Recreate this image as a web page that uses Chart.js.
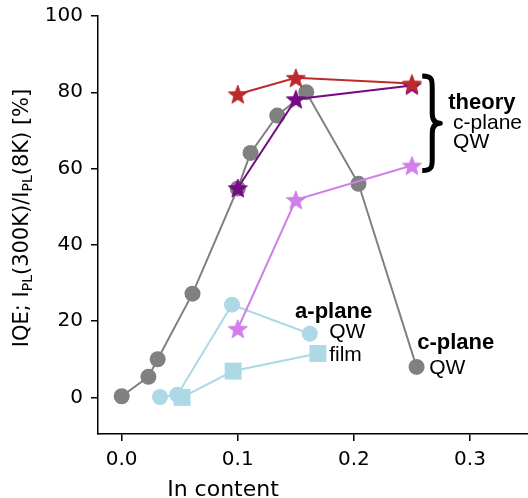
<!DOCTYPE html>
<html>
<head>
<meta charset="utf-8">
<script src="https://cdn.jsdelivr.net/npm/chart.js@4.4.0/dist/chart.umd.min.js"></script>
<style>
  body { margin: 0; background: #fff; }
  #wrap { width: 528px; height: 498px; }
</style>
</head>
<body>
<div id="wrap"><canvas id="iqeChart" width="528" height="498"></canvas></div>
<script>
// c-plane QW, experiment (grey circles)
var cQwX = [0.0, 0.023, 0.031, 0.061, 0.1, 0.111, 0.134, 0.159, 0.204, 0.254];
var cQwY = [0.3, 5.4, 10.0, 27.2, 54.8, 64.1, 73.9, 80.0, 56.0, 8.0];
// a-plane QW (light blue circles) and film (light blue squares)
var aQwX = [0.033, 0.048, 0.095, 0.162];
var aQwY = [0.1, 0.7, 24.3, 16.7];
var aFilmX = [0.052, 0.096, 0.169];
var aFilmY = [0.0, 6.9, 11.5];
// theory, c-plane QW (stars)
var theoryX = [0.1, 0.15, 0.25];
var theoryRed = [79.5, 83.8, 82.3];
var theoryPurple = [54.9, 78.2, 81.8];
var theoryViolet = [18.0, 51.8, 60.8];

var xTicks = [0.0, 0.1, 0.2, 0.3];
var yTicks = [0, 20, 40, 60, 80, 100];

function pts(xs, ys) {
    return xs.map(function (x, i) { return { x: x, y: ys[i] }; });
}

function makeStar(color, r) {
    var c = document.createElement('canvas');
    var s = Math.ceil(r * 2 + 4);
    c.width = s; c.height = s;
    var g = c.getContext('2d');
    var cx = s / 2, cy = s / 2 + r * 0.1;
    var inner = r * 0.42;
    g.beginPath();
    for (var i = 0; i < 10; i++) {
        var rad = i % 2 === 0 ? r : inner;
        var a = -Math.PI / 2 + i * Math.PI / 5;
        var px = cx + rad * Math.cos(a), py = cy + rad * Math.sin(a);
        if (i === 0) g.moveTo(px, py); else g.lineTo(px, py);
    }
    g.closePath();
    g.fillStyle = color;
    g.fill();
    g.lineWidth = 1;
    g.strokeStyle = color;
    g.stroke();
    return c;
}

var grey = '#808080';
var lightBlue = '#add8e6';
var red = '#be2a2c';
var purple = '#760a86';
var violet = '#d07ee8';

// text notes, in data units
var notes = [
    { x: 0.2813, y: 77.2, text: 'theory', bold: true },
    { x: 0.2855, y: 71.9, text: 'c-plane', bold: false },
    { x: 0.2855, y: 66.9, text: 'QW', bold: false },
    { x: 0.1494, y: 22.3, text: 'a-plane', bold: true },
    { x: 0.1787, y: 17.1, text: 'QW', bold: false },
    { x: 0.1787, y: 11.0, text: 'film', bold: false },
    { x: 0.2546, y: 14.2, text: 'c-plane', bold: true },
    { x: 0.2649, y: 7.6, text: 'QW', bold: false }
];

var decorPlugin = {
    id: 'decor',
    afterDraw: function (chart) {
        var ctx = chart.ctx;
        var xs = chart.scales.x, ys = chart.scales.y;
        ctx.save();
        ctx.fillStyle = '#000';
        ctx.textBaseline = 'middle';
        ctx.textAlign = 'left';
        notes.forEach(function (n) {
            ctx.font = (n.bold ? 'bold 22px' : '21px') + ' "Liberation Sans", Arial, sans-serif';
            ctx.fillText(n.text, xs.getPixelForValue(n.x), ys.getPixelForValue(n.y));
        });

        // curly brace next to the theory stars
        var bx = xs.getPixelForValue(0.2589);
        var top = ys.getPixelForValue(84.3), bot = ys.getPixelForValue(59.5);
        var mid = (top + bot) / 2;
        var w = 10, tip = 18;
        ctx.beginPath();
        ctx.moveTo(bx, top);
        ctx.bezierCurveTo(bx + w, top, bx + w, top + 4, bx + w, top + 12);
        ctx.lineTo(bx + w, mid - 10);
        ctx.bezierCurveTo(bx + w, mid - 3, bx + w + 3, mid, bx + tip, mid);
        ctx.bezierCurveTo(bx + w + 3, mid, bx + w, mid + 3, bx + w, mid + 10);
        ctx.lineTo(bx + w, bot - 12);
        ctx.bezierCurveTo(bx + w, bot - 4, bx + w, bot, bx, bot);
        ctx.lineWidth = 5;
        ctx.strokeStyle = '#000';
        ctx.lineJoin = 'round';
        ctx.stroke();

        // axis titles
        ctx.font = '22px "DejaVu Sans", sans-serif';
        ctx.textAlign = 'center';
        ctx.textBaseline = 'alphabetic';
        ctx.fillText('In content', 223, 496);

        var parts = [
            { t: 'IQE; I', sub: false },
            { t: 'PL', sub: true },
            { t: '(300K)/I', sub: false },
            { t: 'PL', sub: true },
            { t: '(8K) [%]', sub: false }
        ];
        var big = '21px "DejaVu Sans", sans-serif';
        var small = '14px "DejaVu Sans", sans-serif';
        var total = 0;
        parts.forEach(function (p) {
            ctx.font = p.sub ? small : big;
            p.w = ctx.measureText(p.t).width;
            total += p.w;
        });
        ctx.translate(28, 218);
        ctx.rotate(-Math.PI / 2);
        ctx.textAlign = 'left';
        var cur = -total / 2;
        parts.forEach(function (p) {
            ctx.font = p.sub ? small : big;
            ctx.fillText(p.t, cur, p.sub ? 4 : 0);
            cur += p.w;
        });
        ctx.restore();
    }
};

var ctx = document.getElementById('iqeChart').getContext('2d');
var iqeChart = new Chart(ctx, {
    type: 'scatter',
    data: {
        datasets: [
            {
                label: 'c-plane QW',
                data: pts(cQwX, cQwY),
                showLine: true,
                borderColor: grey,
                backgroundColor: grey,
                borderWidth: 2,
                pointRadius: 8,
                pointBorderWidth: 0,
                order: 6
            },
            {
                label: 'a-plane QW',
                data: pts(aQwX, aQwY),
                showLine: true,
                borderColor: lightBlue,
                backgroundColor: lightBlue,
                borderWidth: 2,
                pointRadius: 8,
                pointBorderWidth: 0,
                order: 5
            },
            {
                label: 'a-plane film',
                data: pts(aFilmX, aFilmY),
                showLine: true,
                borderColor: lightBlue,
                backgroundColor: lightBlue,
                borderWidth: 2,
                pointStyle: 'rect',
                pointRadius: 12,
                pointBorderWidth: 0,
                order: 5
            },
            {
                label: 'theory (violet)',
                data: pts(theoryX, theoryViolet),
                showLine: true,
                borderColor: violet,
                borderWidth: 2,
                pointStyle: makeStar(violet, 10),
                order: 3
            },
            {
                label: 'theory (purple)',
                data: pts(theoryX, theoryPurple),
                showLine: true,
                borderColor: purple,
                borderWidth: 2,
                pointStyle: makeStar(purple, 10),
                order: 2
            },
            {
                label: 'theory (red)',
                data: pts(theoryX, theoryRed),
                showLine: true,
                borderColor: red,
                borderWidth: 2,
                pointStyle: makeStar(red, 10),
                order: 1
            }
        ]
    },
    options: {
        responsive: false,
        animation: false,
        layout: { autoPadding: false, padding: { top: 16, right: 0, left: 0, bottom: 0 } },
        plugins: {
            legend: { display: false },
            tooltip: { enabled: false }
        },
        scales: {
            x: {
                type: 'linear',
                min: -0.0204,
                max: 0.35,
                afterBuildTicks: function (scale) {
                    scale.ticks = xTicks.map(function (v) { return { value: v }; });
                },
                afterFit: function (scale) {
                    scale.height = 64;
                    scale.paddingLeft = 0;
                    scale.paddingRight = 0;
                },
                grid: { drawOnChartArea: false, drawTicks: true, tickLength: 7, color: '#000', lineWidth: 1.5 },
                border: { display: true, color: '#000', width: 1.5 },
                ticks: {
                    color: '#000',
                    padding: 7,
                    maxRotation: 0,
                    font: { family: '"DejaVu Sans", sans-serif', size: 20 },
                    callback: function (v) { return v.toFixed(1); }
                }
            },
            y: {
                type: 'linear',
                min: -9.6,
                max: 100,
                afterBuildTicks: function (scale) {
                    scale.ticks = yTicks.map(function (v) { return { value: v }; });
                },
                afterFit: function (scale) {
                    scale.width = 98;
                    scale.paddingTop = 0;
                    scale.paddingBottom = 0;
                },
                grid: { drawOnChartArea: false, drawTicks: true, tickLength: 7, color: '#000', lineWidth: 1.5 },
                border: { display: true, color: '#000', width: 1.5 },
                ticks: {
                    color: '#000',
                    padding: 8,
                    font: { family: '"DejaVu Sans", sans-serif', size: 20 }
                }
            }
        }
    },
    plugins: [decorPlugin]
});
</script>
</body>
</html>
